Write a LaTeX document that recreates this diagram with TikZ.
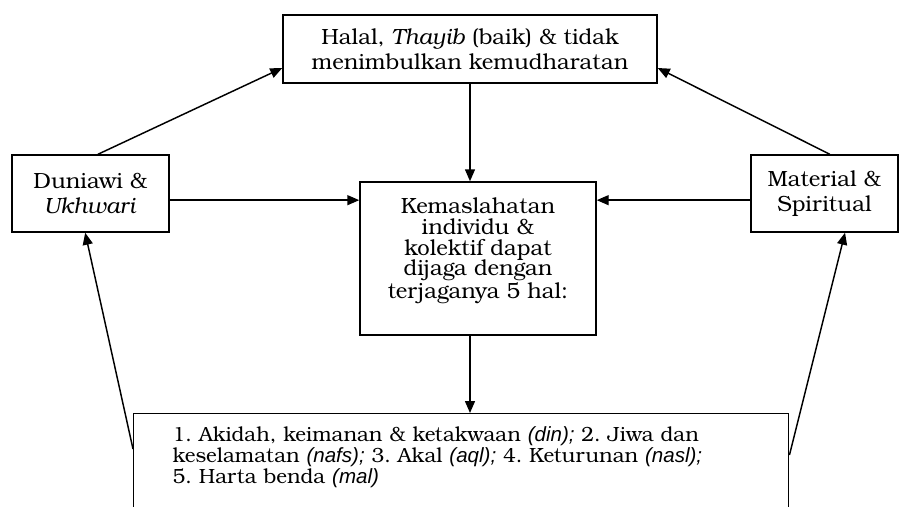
\documentclass[tikz,border=0pt]{standalone}
\usepackage{fontspec}
\setmainfont{texgyrebonum}[Extension=.otf,UprightFont=*-regular,ItalicFont=*-italic,BoldFont=*-bold,BoldItalicFont=*-bolditalic]
\newfontfamily\arialit{Liberation Sans}
\usetikzlibrary{arrows.meta}
\frenchspacing
\tikzset{kotak/.style={draw,line width=1.1pt,align=center,inner sep=0pt,font=\fontsize{16.5}{18.5}\selectfont}}
\newcommand{\istilah}[1]{{\arialit\itshape #1}}

\begin{document}
\begin{tikzpicture}[>={Triangle[length=9pt,width=7.5pt]},x=0.75pt,y=-0.75pt,line width=1.1pt]
			\useasboundingbox (0,0) rectangle (901,507);
			\node[kotak,minimum width=280.5pt,minimum height=51pt] (halal) at (470,49) {Halal, \textit{Thayib} (baik) \& tidak\\menimbulkan kemudharatan};
			\node[kotak,minimum width=117.75pt,minimum height=57.75pt] (duniawi) at (90.5,193.5) {Duniawi \&\\\textit{Ukhwari}};
			\node[kotak,minimum width=110.25pt,minimum height=57.75pt] (material) at (824.5,193.5) {Material \&\\Spiritual};
			\node[kotak,minimum width=177pt,minimum height=114.75pt,font=\fontsize{16.5}{15.6}\selectfont] (maslahat) at (478,258.5) {Kemaslahatan\\individu \&\\kolektif dapat\\dijaga dengan\\terjaganya 5 hal:\\\mbox{}};
			\node[kotak,anchor=north west,align=left,text width=432.75pt,inner xsep=29.25pt,inner ysep=10pt,font=\fontsize{15.4}{15.75}\selectfont] (lima) at (133,413) {1. Akidah, keimanan \& ketakwaan \istilah{(din);} 2. Jiwa dan\\keselamatan \istilah{(nafs);} 3. Akal \istilah{(aql);} 4. Keturunan \istilah{(nasl);}\\5. Harta benda \istilah{(mal)}\\\mbox{}};
			\draw[->] ([xshift=5.6pt]duniawi.north) -- ([yshift=-14.25pt]halal.west);
			\draw[->] ([xshift=4pt]material.north) -- ([yshift=-14.25pt]halal.east);
			\draw[->] (halal.south) -- (halal.south |- maslahat.north);
			\draw[->] ([yshift=-5pt]duniawi.east) -- ([yshift=-5pt]duniawi.east -| maslahat.west);
			\draw[->] ([yshift=-5pt]material.west) -- ([yshift=-5pt]material.west -| maslahat.east);
			\draw[->] (halal.south |- maslahat.south) -- (halal.south |- lima.north);
			\draw[->] ([yshift=-27pt]lima.north west) -- ([xshift=-4pt]duniawi.south);
			\draw[->] ([yshift=-31.5pt]lima.north east) -- ([xshift=15.4pt]material.south);
\end{tikzpicture}
\end{document}
